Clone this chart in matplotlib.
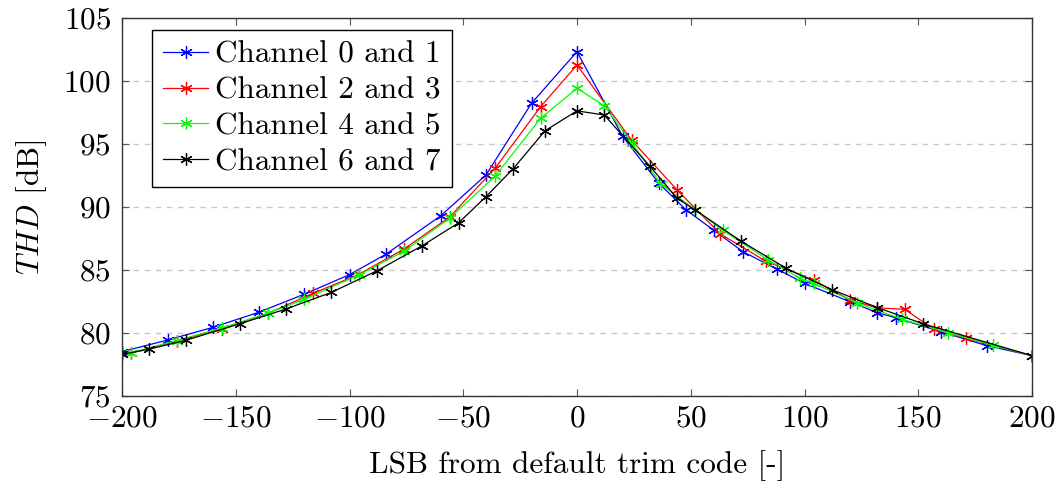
import matplotlib.pyplot as plt
from matplotlib.ticker import MultipleLocator

plt.rcParams['font.family'] = 'cmr10'
plt.rcParams['mathtext.fontset'] = 'cm'
plt.rcParams['axes.formatter.use_mathtext'] = True
plt.rcParams['font.size'] = 22.5

# Channel 0 and 1
x_ch01 = [-200, -180, -160, -140, -120, -100, -84, -60, -40, -20, 0, 20, 36, 48, 60, 73, 88, 100, 120, 132, 140, 160, 180, 200]
y_ch01 = [78.52, 79.44, 80.45, 81.64, 83.07, 84.63, 86.25, 89.29, 92.54, 98.23, 102.33, 95.63, 91.88, 89.76,
          88.17, 86.45, 85.06, 83.94, 82.48, 81.61, 81.22, 80.10, 79.00, 78.20]

# Channel 2 and 3
x_ch23 = [-196, -176, -156, -136, -116, -96, -76, -56, -36, -16, 0, 24, 44, 63, 83, 104, 120, 132, 144, 157, 171, 200]
y_ch23 = [78.40, 79.35, 80.35, 81.55, 83.15, 84.65, 86.67, 89.20, 93.07, 97.96, 101.27, 95.30, 91.35, 87.86,
          85.70, 84.20, 82.62, 82.00, 81.88, 80.29, 79.58, 78.20]

# Channel 4 and 5
x_ch45 = [-196, -176, -156, -136, -120, -96, -76, -56, -36, -16, 0, 12, 24, 37, 52, 64, 84, 98, 104, 123, 143, 163, 183, 200]
y_ch45 = [78.45, 79.40, 80.40, 81.56, 82.67, 84.60, 86.50, 89.10, 92.45, 97.04, 99.42, 98.04, 95.10, 91.80,
          89.76, 88.17, 85.80, 84.34, 83.94, 82.40, 81.08, 80.03, 79.02, 78.20]

# Channel 6 and 7
x_ch67 = [-200, -188, -172, -148, -128, -108, -88, -68, -52, -40, -28, -14, 0, 12, 32, 44, 52, 72, 92, 112, 132, 152, 200]
y_ch67 = [78.30, 78.72, 79.42, 80.74, 81.90, 83.22, 84.93, 86.93, 88.75, 90.82, 93.05, 96.06, 97.63, 97.30,
          93.25, 90.69, 89.76, 87.30, 85.13, 83.44, 82.02, 80.74, 78.20]

series = [
    (x_ch01, y_ch01, 'Channel 0 and 1', '#0000ff'),
    (x_ch23, y_ch23, 'Channel 2 and 3', '#ff0000'),
    (x_ch45, y_ch45, 'Channel 4 and 5', '#00ff00'),
    (x_ch67, y_ch67, 'Channel 6 and 7', '#000000'),
]

fig = plt.figure(figsize=(10.61, 4.87), dpi=100)
ax = fig.add_axes([122 / 1061, 1 - 396 / 487, 910 / 1061, 378 / 487])

for xs, ys, name, col in series:
    ax.plot(xs, ys, color=col, lw=0.9, marker=(6, 2, 0), markersize=9,
            markeredgewidth=0.9, label=name)

ax.set_xlim(-200, 200)
ax.set_ylim(75, 105)
ax.xaxis.set_major_locator(MultipleLocator(50))
ax.yaxis.set_major_locator(MultipleLocator(5))
ax.grid(axis='y', linestyle=(0, (4, 4)), color='#c8c8c8', lw=1)
ax.tick_params(direction='in', top=True, right=True, length=5, width=0.8, color='#555555')
ax.tick_params(axis='x', pad=6)
ax.tick_params(axis='y', pad=8)
for s in ax.spines.values():
    s.set_linewidth(1.0)
    s.set_color('#333333')

ax.set_xlabel('LSB from default trim code [-]', labelpad=13)
ax.set_ylabel(r'$THD$ [dB]', labelpad=10)

leg = ax.legend(loc='upper left', bbox_to_anchor=(30 / 910, 1 - 12 / 378), borderaxespad=0,
                fancybox=False, framealpha=1, edgecolor='black', handlelength=1.45,
                handletextpad=0.22, labelspacing=0.25, borderpad=0.35)
leg.get_frame().set_linewidth(1.0)

plt.savefig('out.png', dpi=100)
